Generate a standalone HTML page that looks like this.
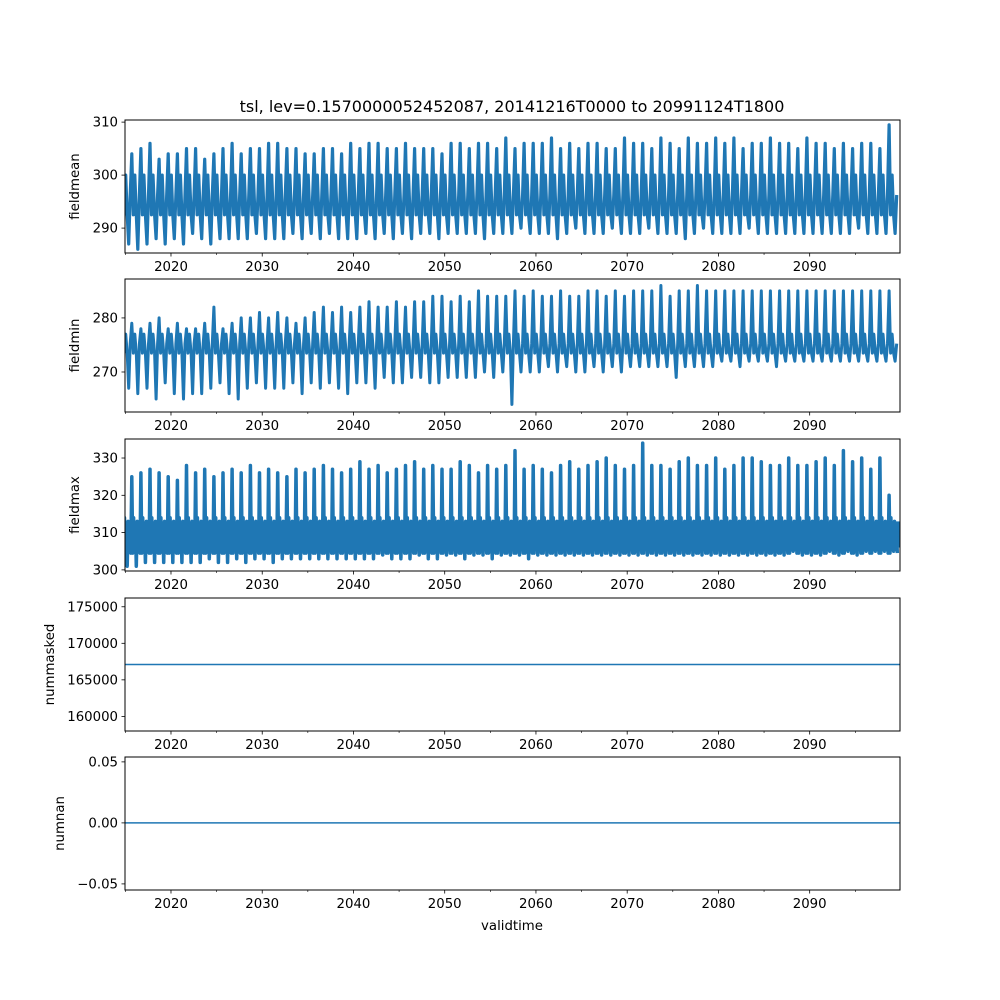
<!DOCTYPE html>
<html><head><meta charset="utf-8"><style>
body{margin:0;background:#fff;}
svg{display:block;font-family:"DejaVu Sans","Liberation Sans",sans-serif;}
</style></head><body>
<svg id="fig" width="1000" height="1000" viewBox="0 0 1000 1000">
<rect width="1000" height="1000" fill="#fff"/>
<text x="512" y="112" font-size="16" text-anchor="middle">tsl, lev=0.1570000052452087, 20141216T0000 to 20991124T1800</text>
<text x="512" y="930" font-size="13.3" text-anchor="middle">validtime</text>
</svg>
<script>
const startYear = 2015;
const meanMax = [302,304,305,306,303,304,304,305,305,303,304,305,306,304,305,305,306,306,305,305,304,304,305,305,304,306,305,306,306,305,305,306,305,305,305,304,306,306,305,306,306,305,307,305,306,306,306,307,305,306,305,306,306,305,305,307,306,306,305,307,306,305,307,306,306,307,306,307,305,306,306,307,306,306,305,307,306,306,305,306,305,306,306,305,309.5];
const meanMin = [287,286,287,288,287,288,287,289,288,287,288,288,288,288,289,288,288,288,289,288,289,288,289,288,288,288,289,288,289,288,289,288,289,289,288,289,289,289,289,288,289,289,289,290,289,289,289,288,289,290,289,289,289,290,289,289,289,290,289,289,289,288,289,290,289,289,289,289,290,289,289,289,289,289,289,289,289,289,289,289,290,289,289,289,289];
const minMax = [277,279,278,279,280,278,279,278,278,279,282,278,279,280,280,281,280,281,280,279,280,281,282,281,282,281,282,283,282,282,283,282,283,283,284,284,283,284,283,285,284,284,284,285,284,285,284,284,285,284,284,285,285,284,285,284,285,285,285,286,284,285,285,286,285,285,285,285,285,285,285,285,285,285,285,285,285,285,285,285,285,285,285,285,285];
const minMin = [267,266,267,265,268,266,265,266,266,267,268,266,265,267,268,267,267,267,268,266,268,267,268,267,266,268,268,267,269,268,268,269,269,268,268,269,269,269,269,270,269,270,264,270,270,270,271,270,271,270,270,271,270,271,270,271,271,271,271,271,269,271,271,271,271,272,272,271,272,272,272,271,272,272,272,272,272,272,272,272,272,272,272,272,272];
const maxMax = [320,325,326,327,326,325,324,328,326,327,325,326,327,326,328,326,327,326,325,327,326,327,328,327,326,327,329,327,328,326,327,328,329,327,328,327,327,329,328,326,328,327,328,332,327,328,327,326,328,329,327,328,329,330,328,327,328,334,328,328,327,329,330,328,328,330,327,328,330,330,329,328,328,330,328,328,329,330,328,332,329,330,327,330,320];
const maxMin = [301,301,302,302,302,302,302,302,302,303,302,302,303,302,303,303,302,303,303,303,303,303,303,303,303,303,303,303,304,303,303,303,304,303,303,304,304,303,304,304,303,304,304,304,303,304,304,304,304,304,304,304,304,304,304,304,304,304,304,304,304,304,304,304,304,304,304,304,304,304,304,304,304,305,304,304,304,305,304,305,304,305,305,305,305];
const meanSecondary = [300,292.5];
const minSecondary = [277,273.5];
const maxSecondary = [314,304.5];
const nummaskedValue = [167100];
const numnanValue = [0];
const xTicks = [2020,2030,2040,2050,2060,2070,2080,2090];
const xMinor = [2015,2025,2035,2045,2055,2065,2075,2085,2095];
const tStart = 2014.96, tEnd = 2099.9;

const NS = "http://www.w3.org/2000/svg";
const svg = document.getElementById('fig');
const L = 125, R = 900;
const X = t => L + (t - tStart) / (tEnd - tStart) * (R - L);
function mk(tag, attrs, parent){const e=document.createElementNS(NS,tag);for(const k in attrs)e.setAttribute(k,attrs[k]);(parent||svg).appendChild(e);return e;}

const panels = [
 {name:'fieldmean', top:120, bot:253, y0:285.3, y1:310.4, ticks:[290,300,310], fmt:v=>v, hi:meanMax, lo:meanMin, sec:meanSecondary, sw:3.2},
 {name:'fieldmin', top:279, bot:412, y0:262.6, y1:287.2, ticks:[270,280], fmt:v=>v, hi:minMax, lo:minMin, sec:minSecondary, sw:3},
 {name:'fieldmax', top:439, bot:571, y0:299.7, y1:335.1, ticks:[300,310,320,330], fmt:v=>v, hi:maxMax, lo:maxMin, sec:maxSecondary, sw:3.5, dense:true},
 {name:'nummasked', top:598, bot:731, y0:158000, y1:176200, ticks:[160000,165000,170000,175000], fmt:v=>v, flat:nummaskedValue},
 {name:'numnan', top:757, bot:890, y0:-0.055, y1:0.054, ticks:[-0.05,0,0.05], fmt:v=>v.toFixed(2).replace('-','\u2212'), flat:numnanValue}
];

panels.forEach((p,pi)=>{
  const Y = v => p.bot - (v - p.y0)/(p.y1 - p.y0)*(p.bot - p.top);
  const g = mk('g',{});
  
  
  const cid = 'clip'+pi;
  const cp = mk('clipPath',{id:cid}, g);
  mk('rect',{x:L,y:p.top,width:R-L,height:p.bot-p.top},cp);
  if (p.hi) {
    const pts=[];
    p.hi.forEach((h,i)=>{
      const t = startYear + i - 0.3;
      const m = p.lo[i];
      let seq;
      if (p.dense) seq = [h, p.sec[1], p.sec[0], p.sec[1]+1, p.sec[0]-2, m, p.sec[0]-1, p.sec[1]+1, p.sec[0]-3, p.sec[1]];
      else seq = [h, p.sec[1], p.sec[0], p.sec[1], m, p.sec[1]+(p.sec[0]-p.sec[1])*0.5];
      seq.forEach((v,k)=>pts.push([X(t + k/seq.length), Y(v)]));
    });
    const d = pts.map(q=>q[0].toFixed(1)+','+q[1].toFixed(1)).join(' ');
    if (p.dense) {
      const band = mk('rect',{x:L,y:Y(p.sec[0]-1),width:R-L,height:Y(p.sec[1]+1.5)-Y(p.sec[0]-1),fill:'#1f77b4'},g);
      
      
    }
    const poly = mk('polyline',{points:d,fill:'none',stroke:'#1f77b4','stroke-width':p.sw,'stroke-linejoin':'round','clip-path':'url(#'+cid+')'},g);
    
    
  } else {
    const ln = mk('line',{x1:L,x2:R,y1:Y(p.flat[0]),y2:Y(p.flat[0]),stroke:'#1f77b4','stroke-width':1.5},g);
    
    
  }
  const frame = mk('rect',{x:L,y:p.top,width:R-L,height:p.bot-p.top,fill:'none',stroke:'#000','stroke-width':1},g);
  
  
  p.ticks.forEach(v=>{
    const y = Y(v);
    mk('line',{x1:L-3.5,x2:L,y1:y,y2:y,stroke:'#000','stroke-width':0.8},g);
    const tx = mk('text',{x:L-7,y:y+4.5,'font-size':13.3,'text-anchor':'end'},g);
    tx.textContent = p.fmt(v);
    
    
  });
  xTicks.forEach(v=>{
    const x = X(v);
    mk('line',{x1:x,x2:x,y1:p.bot,y2:p.bot+3.5,stroke:'#000','stroke-width':0.8},g);
    const tx = mk('text',{x:x,y:p.bot+18,'font-size':13.3,'text-anchor':'middle'},g);
    tx.textContent = v;
    
    
  });
  xMinor.forEach(v=>{
    const x = X(v);
    mk('line',{x1:x,x2:x,y1:p.bot,y2:p.bot+2,stroke:'#000','stroke-width':0.6},g);
  });
  const yl = mk('text',{x:0,y:0,'font-size':13.3,'text-anchor':'middle',transform:'translate('+(p.name==='nummasked'?54:(p.name==='numnan'?64:79))+','+((p.top+p.bot)/2)+') rotate(-90)'},g);
  yl.textContent = p.name;
  
  
});
</script>
</body></html>
